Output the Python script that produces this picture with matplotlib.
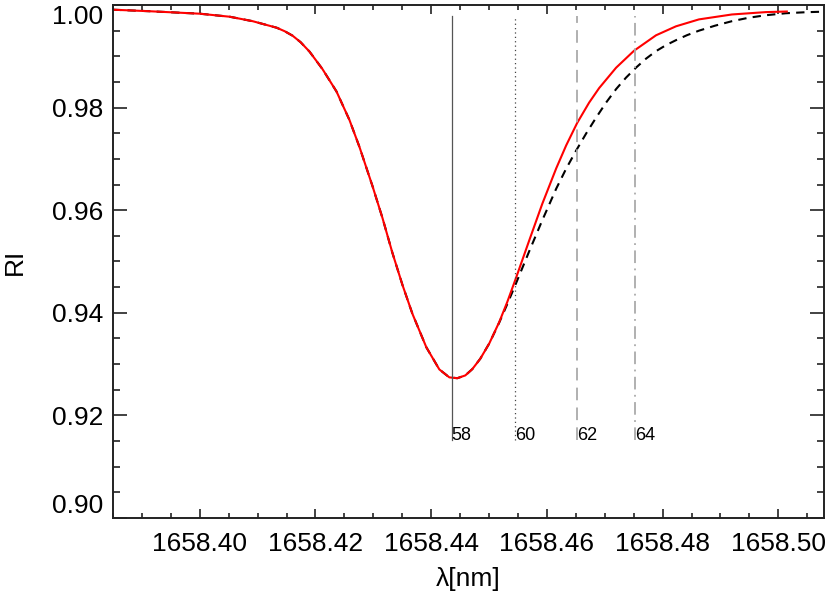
import numpy as np
import matplotlib
matplotlib.use("Agg")
import matplotlib.pyplot as plt
from matplotlib.ticker import MultipleLocator, FormatStrFormatter

plt.rcParams['font.family'] = ['Liberation Sans', 'DejaVu Sans']

# shared blue wing + core (both profiles lie on top of each other here)
wl_core = [1658.38499, 1658.39137, 1658.40000, 1658.40518, 1658.40915, 1658.41329,
           1658.41467, 1658.41605, 1658.41743, 1658.41898, 1658.42122, 1658.42364,
           1658.42588, 1658.42761, 1658.42985, 1658.43158, 1658.43330, 1658.43503,
           1658.43676, 1658.43917, 1658.44141, 1658.44314, 1658.44452, 1658.44590,
           1658.44711, 1658.44849, 1658.45004]
ri_core = [0.99908, 0.99878, 0.99830, 0.99771, 0.99684, 0.99557,
           0.99489, 0.99401, 0.99275, 0.99090, 0.98749, 0.98313,
           0.97757, 0.97231, 0.96472, 0.95849, 0.95168, 0.94545,
           0.93980, 0.93326, 0.92896, 0.92741, 0.92725, 0.92779,
           0.92902, 0.93105, 0.93402]

# red solid profile, red wing
wl_red_wing = [1658.45177, 1658.45315, 1658.45470, 1658.45695, 1658.45919, 1658.46161,
               1658.46333, 1658.46523, 1658.46730, 1658.46903, 1658.47196, 1658.47507,
               1658.47886, 1658.48231, 1658.48628, 1658.49198, 1658.49784, 1658.50147]
ri_red_wing = [0.93821, 0.94210, 0.94691, 0.95411, 0.96120, 0.96815,
               0.97262, 0.97700, 0.98097, 0.98380, 0.98777, 0.99109,
               0.99409, 0.99584, 0.99719, 0.99815, 0.99861, 0.99873]

# black dashed profile, red wing
wl_dash_wing = [1658.45177, 1658.45315, 1658.45470, 1658.45695, 1658.45919, 1658.46161,
                1658.46333, 1658.46506, 1658.46678, 1658.46851, 1658.47023, 1658.47196,
                1658.47368, 1658.47541, 1658.47714, 1658.47886, 1658.48059, 1658.48231,
                1658.48421, 1658.48628, 1658.48904, 1658.49198, 1658.49491, 1658.49784,
                1658.50129, 1658.50475, 1658.50768]
ri_dash_wing = [0.93811, 0.94169, 0.94584, 0.95201, 0.95800, 0.96419,
                0.96809, 0.97163, 0.97494, 0.97805, 0.98097, 0.98360,
                0.98584, 0.98779, 0.98954, 0.99100, 0.99217, 0.99314,
                0.99411, 0.99499, 0.99596, 0.99684, 0.99752, 0.99800,
                0.99839, 0.99859, 0.99869]

# vertical markers
mark_wl = [1658.44354, 1658.45448, 1658.46518, 1658.47519]
mark_lab = ['58', '60', '62', '64']
mark_top = 0.9979
mark_bot = 0.9152

fig = plt.figure(figsize=(8.3, 5.93), dpi=100)
ax = fig.add_axes([0.1361, 0.1265, 0.8567, 0.8651])

ax.plot(wl_core + wl_dash_wing, ri_core + ri_dash_wing, color='black', lw=1.5, dashes=(4, 3))
ax.plot(wl_core + wl_red_wing, ri_core + ri_red_wing, color='red', lw=1.5)

styles = [dict(color='#555555', lw=0.9, ls='-'),
          dict(color='#444444', lw=0.9, ls=(0, (1, 2.5))),
          dict(color='#aaaaaa', lw=1.3, ls=(0, (7, 4))),
          dict(color='#aaaaaa', lw=1.3, ls=(0, (7, 3, 1, 3)))]
for w, lab, st in zip(mark_wl, mark_lab, styles):
    ax.plot([w, w], [mark_bot, mark_top], **st)
    ax.text(w, mark_bot, lab, fontsize=13, ha='left', va='baseline')

ax.set_xlim(1658.385, 1658.5079)
ax.set_ylim(0.90, 1.00)
ax.xaxis.set_major_locator(MultipleLocator(0.02))
ax.xaxis.set_minor_locator(MultipleLocator(0.005))
ax.yaxis.set_major_locator(MultipleLocator(0.02))
ax.yaxis.set_minor_locator(MultipleLocator(0.005))
ax.xaxis.set_major_formatter(FormatStrFormatter('%.2f'))
ax.yaxis.set_major_formatter(FormatStrFormatter('%.2f'))

for sp in ax.spines.values():
    sp.set_linewidth(1.4)
    sp.set_color('#222222')

ax.tick_params(axis='x', which='major', direction='in', length=6.8, width=1.2,
               top=True, labelsize=19, pad=10, color='#222222')
ax.tick_params(axis='x', which='minor', direction='in', length=3.6, width=1.2,
               top=True, color='#222222')
ax.tick_params(axis='y', which='major', direction='in', length=10, width=1.2,
               right=True, labelsize=19, pad=7, color='#222222')
ax.tick_params(axis='y', which='minor', direction='in', length=5, width=1.2,
               right=True, color='#222222')

ax.set_xlabel('λ[nm]', fontsize=19, labelpad=8)
ax.set_ylabel('RI', fontsize=19, labelpad=18)

# keep the end labels inside the frame, like the original
fig.canvas.draw()
for t in ax.yaxis.get_major_ticks():
    loc = t.get_loc()
    if abs(loc - 1.00) < 1e-6:
        t.label1.set_va('top')
    elif abs(loc - 0.90) < 1e-6:
        t.label1.set_va('bottom')

fig.savefig('out.png', dpi=100)
